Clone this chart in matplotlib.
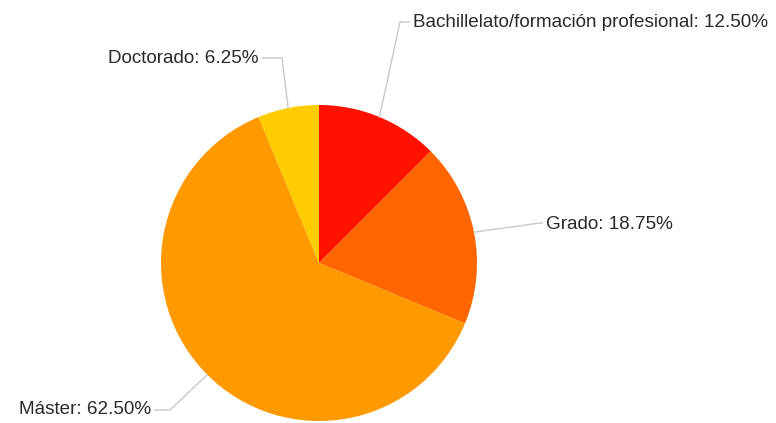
import numpy as np
import matplotlib
matplotlib.use("Agg")
import matplotlib.pyplot as plt

# Data
labels = ['Bachillelato/formación profesional', 'Grado', 'Máster', 'Doctorado']
values = [12.50, 18.75, 62.50, 6.25]
colors = ['#FF1100', '#FF6600', '#FF9900', '#FFCC00']

W, H = 776, 423
cx, cy, r = 319, 263, 158

# label layout: elbow point and text anchor (pixel coords, y down)
elbows = [(400, 22), (540, 223), (170, 410), (282, 58)]
text_pos = [(413, 22, 'left'), (546, 224, 'left'), (151, 410, 'right'), (259, 58, 'right')]


def fy(y):
    return H - y


fig = plt.figure(figsize=(W / 100, H / 100), dpi=100)
ax = fig.add_axes([0, 0, 1, 1])

wedges, _ = ax.pie(values, colors=colors, startangle=90, counterclock=False,
                   center=(cx, fy(cy)), radius=r, frame=True,
                   wedgeprops=dict(linewidth=0))
ax.set_xlim(0, W)
ax.set_ylim(0, H)
ax.set_aspect('equal')
ax.axis('off')

for w, lab, val, (ex, ey), (tx, ty, ha) in zip(wedges, labels, values, elbows, text_pos):
    ang = np.deg2rad((w.theta1 + w.theta2) / 2)
    sx = cx + r * np.cos(ang)
    sy = fy(cy) + r * np.sin(ang)
    end_x = tx - 4 if ha == 'left' else tx + 4
    ax.plot([sx, ex, end_x], [sy, fy(ey), fy(ey)], color='#C8C8C8', lw=1)
    ax.text(tx, fy(ty), '%s: %.2f%%' % (lab, val), ha=ha, va='center',
            fontsize=13.6, color='#2A2A2A', family='Liberation Sans')

fig.savefig('out.png', dpi=100)
plt.close()
